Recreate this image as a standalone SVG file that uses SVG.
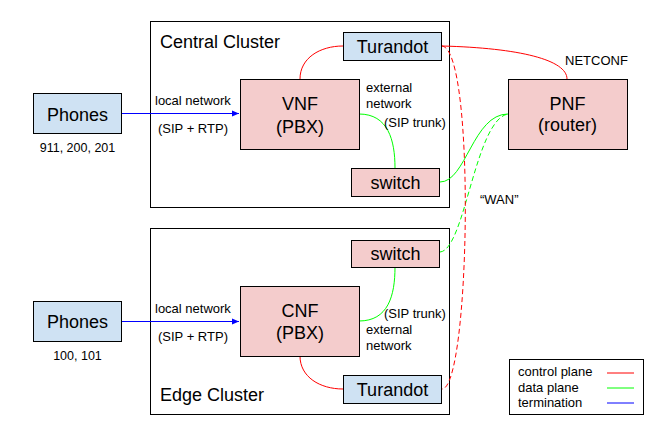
<svg xmlns="http://www.w3.org/2000/svg" width="664" height="435" viewBox="0 0 664 435">
<defs>
<marker id="arr" markerWidth="8" markerHeight="8" refX="7" refY="4" orient="auto" markerUnits="userSpaceOnUse">
<path d="M0,1 L7,4 L0,7 Z" fill="#0000ff"/>
</marker>
<style>
text{font-family:"Liberation Sans",Arial,sans-serif;fill:#000}
.big{font-size:18px}
.sm{font-size:13px}
.mid{text-anchor:middle}
.cluster{fill:#fff;stroke:#000;stroke-width:1}
.pink{fill:#f4cccc;stroke:#000;stroke-width:1}
.blue{fill:#cfe2f3;stroke:#000;stroke-width:1}
.ctl{fill:none;stroke:#ff0000;stroke-width:1}
.dat{fill:none;stroke:#00ff00;stroke-width:1}
.trm{fill:none;stroke:#0000ff;stroke-width:1}
.dash{stroke-dasharray:5,3}
</style>
</defs>
<rect width="664" height="435" fill="#fff"/>

<g id="central-cluster">
<rect class="cluster" x="150.5" y="21.5" width="299" height="186"/>
<text class="big" x="160" y="48">Central Cluster</text>
</g>
<g id="edge-cluster">
<rect class="cluster" x="150.5" y="228.5" width="299" height="186"/>
<text class="big" x="160" y="401">Edge Cluster</text>
</g>

<g id="connectors">
<path class="trm" d="M121,113.5 L239,113.5" marker-end="url(#arr)"/>
<path class="trm" d="M121,321.5 L239,321.5" marker-end="url(#arr)"/>
<path class="ctl" d="M300,79 C300,58 320,46 343,46"/>
<path class="dat" d="M359,114 C388,114 395,140 395,168"/>
<path class="dat" d="M440,182 C466,182 473,114 508,114"/>
<path class="dat dash" d="M440,252 C465,250 475,120 508,114"/>
<path class="ctl" d="M442,46 C520,48 567,60 567,79"/>
<path class="ctl dash" d="M442,46 C476,50 470,389 442,389"/>
<path class="ctl" d="M300,356 C300,377 320,389 343,389"/>
<path class="dat" d="M359,321 C388,321 395,296 395,267"/>
</g>

<g id="phones-central">
<rect class="blue" x="33.5" y="93.5" width="88" height="40"/>
<text class="big mid" x="77.5" y="121">Phones</text>
<text class="mid" x="77.5" y="152" font-size="12.5">911, 200, 201</text>
</g>
<g id="phones-edge">
<rect class="blue" x="33.5" y="301.5" width="88" height="40"/>
<text class="big mid" x="77.5" y="328">Phones</text>
<text class="mid" x="77.5" y="360" font-size="12.5">100, 101</text>
</g>

<g id="labels-central">
<text class="sm" x="155" y="105">local network</text>
<text class="sm" x="158" y="133">(SIP + RTP)</text>
<text class="sm" x="366" y="92">external</text>
<text class="sm" x="366" y="108">network</text>
<text class="sm" x="384" y="127">(SIP trunk)</text>
</g>
<g id="labels-edge">
<text class="sm" x="155" y="313">local network</text>
<text class="sm" x="158" y="341">(SIP + RTP)</text>
<text class="sm" x="384" y="318">(SIP trunk)</text>
<text class="sm" x="366" y="334">external</text>
<text class="sm" x="366" y="350">network</text>
</g>

<g id="vnf">
<rect class="pink" x="240.5" y="79.5" width="119" height="70"/>
<text class="big mid" x="300" y="110">VNF</text>
<text class="big mid" x="300" y="133">(PBX)</text>
</g>
<g id="turandot-central">
<rect class="blue" x="343.5" y="32.5" width="98" height="28"/>
<text class="big mid" x="392.5" y="53">Turandot</text>
</g>
<g id="switch-central">
<rect class="pink" x="351.5" y="168.5" width="88" height="28"/>
<text class="big mid" x="395.5" y="189">switch</text>
</g>

<g id="cnf">
<rect class="pink" x="240.5" y="286.5" width="119" height="70"/>
<text class="big mid" x="300" y="317">CNF</text>
<text class="big mid" x="300" y="339">(PBX)</text>
</g>
<g id="switch-edge">
<rect class="pink" x="351.5" y="240.5" width="88" height="27"/>
<text class="big mid" x="395.5" y="260">switch</text>
</g>
<g id="turandot-edge">
<rect class="blue" x="343.5" y="375.5" width="98" height="28"/>
<text class="big mid" x="392.5" y="396">Turandot</text>
</g>

<g id="pnf">
<rect class="pink" x="508.5" y="79.5" width="119" height="70"/>
<text class="big mid" x="567.5" y="110">PNF</text>
<text class="big mid" x="567.5" y="131">(router)</text>
</g>
<text class="sm" x="565" y="65">NETCONF</text>
<text class="sm" x="480" y="204">“WAN”</text>

<g id="legend">
<rect x="509.5" y="359.5" width="134" height="55" fill="#fff" stroke="#000" stroke-width="1"/>
<text class="sm" x="518" y="376">control plane</text>
<text class="sm" x="518" y="392">data plane</text>
<text class="sm" x="518" y="407">termination</text>
<path class="ctl" d="M607,373 L634,373"/>
<path class="dat" d="M607,388 L634,388"/>
<path class="trm" d="M607,403 L634,403"/>
</g>
</svg>
